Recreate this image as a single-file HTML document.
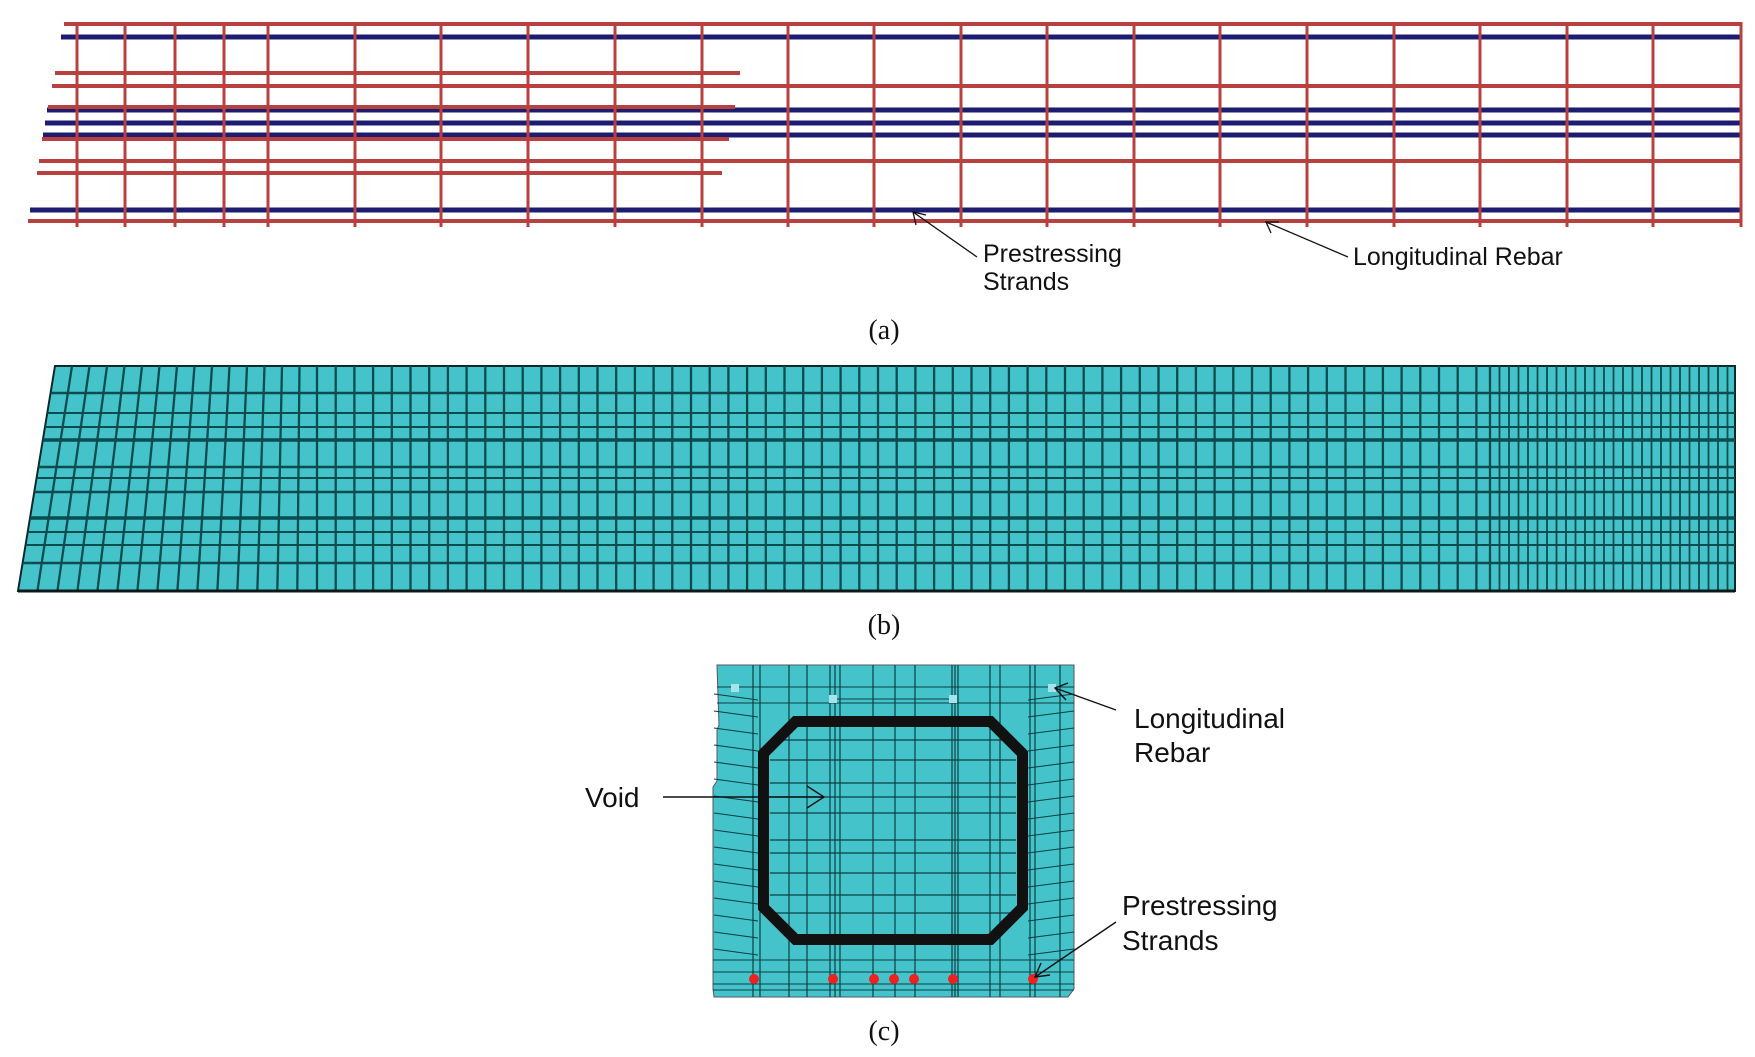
<!DOCTYPE html>
<html><head><meta charset="utf-8"><style>
html,body{margin:0;padding:0;background:#fff;}
svg{display:block;}
text{font-family:"Liberation Sans",Arial,sans-serif;fill:#111;}
.serif{font-family:"Liberation Serif",serif;}
</style></head><body>
<svg id="s" width="1755" height="1057" viewBox="0 0 1755 1057" xmlns="http://www.w3.org/2000/svg">
<g id="a"></g>
<g id="b"></g>
<g id="c"></g>
<g stroke="#111" stroke-width="1.3" fill="none">
<line x1="977" y1="257" x2="913" y2="212"/><polyline points="916,225 913,212 926,215"/>
<line x1="1348" y1="257" x2="1266" y2="222"/><polyline points="1271,233 1266,222 1279,222"/>
</g>
<text x="983" y="262" font-size="25">Prestressing</text>
<text x="983" y="290" font-size="25">Strands</text>
<text x="1353" y="265" font-size="25">Longitudinal Rebar</text>
<text class="serif" x="884" y="339" font-size="28" text-anchor="middle">(a)</text>
<text class="serif" x="884" y="634" font-size="28" text-anchor="middle">(b)</text>
<text class="serif" x="884" y="1040" font-size="28" text-anchor="middle">(c)</text>
<text x="585" y="807" font-size="28">Void</text>
<text x="1134" y="728" font-size="28">Longitudinal</text>
<text x="1134" y="762" font-size="28">Rebar</text>
<text x="1122" y="915" font-size="28">Prestressing</text>
<text x="1122" y="950" font-size="28">Strands</text>
</svg>
<script>
(function(){
const NS="http://www.w3.org/2000/svg";
function el(p,t,a){const e=document.createElementNS(NS,t);for(const k in a)e.setAttribute(k,a[k]);p.appendChild(e);return e;}
const A=document.getElementById('a');
const red="#b8403e",blue="#1c1c70";
const vx=[77,125,175,224,268,355,441,528,615,702,788,874,961,1047,1134,1220,1307,1394,1480,1567,1653,1741];
const hl=[[24,64,1741,red],[37,61,1741,blue],[73,55,740,red],[86,52,1741,red],[107,48,735,red],[110,47,1741,blue],[123,45,1741,blue],[135,43,1741,blue],[139,42,729,red],[161,39,1741,red],[173,37,722,red],[210,30,1741,blue],[221,28,1741,red]];
hl.forEach(h=>{if(h[3]==blue)el(A,'line',{x1:h[1],y1:h[0],x2:h[2],y2:h[0],stroke:h[3],'stroke-width':5});});
vx.forEach(x=>el(A,'line',{x1:x,y1:22,x2:x,y2:227,stroke:red,'stroke-width':3}));
hl.forEach(h=>{if(h[3]==red)el(A,'line',{x1:h[1],y1:h[0],x2:h[2],y2:h[0],stroke:h[3],'stroke-width':4});});
const B=document.getElementById('b');
const TOPY=366,BOTY=591;
function xl(y){return 55-37*(y-TOPY)/(BOTY-TOPY);}
el(B,'polygon',{points:`55,${TOPY} 1735,${TOPY} 1735,${BOTY} 18,${BOTY}`,fill:"#45c3cb",stroke:"#0a2a2a","stroke-width":2});
const line="#0b4d4f";
let xs=[];for(let x=72;x<1490;x+=(x<300?17.5:18.7))xs.push(x);for(let x=1490;x<1735;x+=9.5)xs.push(x);
xs.forEach(x=>{const f=Math.max(0,1-(x-55)/260);const bx=x-37*f;el(B,'line',{x1:x,y1:TOPY,x2:bx,y2:BOTY,stroke:line,'stroke-width':x>1490?1.8:2.3});});
const hy=[[393,2.5],[413,2],[427,2],[440,3.5],[467,2.5],[478,2],[492,2.5],[518,3.5],[532,2],[545,2],[563,2.5]];
hy.forEach(h=>el(B,'line',{x1:xl(h[0]),y1:h[0],x2:1735,y2:h[0],stroke:line,'stroke-width':h[1]}));
el(B,'line',{x1:18,y1:BOTY,x2:1735,y2:BOTY,stroke:"#0a1a1a","stroke-width":3});
const C=document.getElementById('c');
const L=717,R=1074,T=665,Bt=997;
el(C,'polygon',{points:`${L},${T} ${R},${T} ${R},${Bt-8} ${R-6},${Bt} ${L-3},${Bt} ${L-4},${Bt-8} ${L-4},787 ${L},781 ${L},730 ${L+2},725`,fill:"#45c3cb",stroke:"#556",'stroke-width':1});
const cl="#0b3f40";
[753,760,789,807,830,835,840,873,895,915,952,955,958,990,1000,1030,1035,1060].forEach(x=>el(C,'line',{x1:x,y1:T,x2:x,y2:Bt,stroke:cl,'stroke-width':1.2}));
[740,760,783,797,813,840,853,873,895,913].forEach(y=>{el(C,'line',{x1:770,y1:y,x2:1016,y2:y,stroke:cl,'stroke-width':1.2});});
for(let y=700;y<960;y+=17){el(C,'line',{x1:L-3,y1:y-6,x2:758,y2:y,stroke:cl,'stroke-width':1.1});el(C,'line',{x1:1028,y1:y,x2:R,y2:y-6,stroke:cl,'stroke-width':1.1});}
[683,699].forEach(y=>el(C,'line',{x1:L,y1:y+4,x2:R,y2:y+4,stroke:cl,'stroke-width':1.1}));
[960,972,984,990].forEach(y=>el(C,'line',{x1:L-4,y1:y,x2:R,y2:y,stroke:cl,'stroke-width':1.1}));
const o=5.5,x1=758+o,x2=1028-o,y1=716+o,y2=945-o,ch=32;
el(C,'polygon',{points:`${x1+ch},${y1} ${x2-ch},${y1} ${x2},${y1+ch} ${x2},${y2-ch} ${x2-ch},${y2} ${x1+ch},${y2} ${x1},${y2-ch} ${x1},${y1+ch}`,fill:"none",stroke:"#111","stroke-width":11,"stroke-linejoin":"miter"});
[[735,688],[833,699],[953,699],[1052,688]].forEach(p=>el(C,'rect',{x:p[0]-4,y:p[1]-4,width:8,height:8,fill:"#a6e3ea"}));
el(C,'line',{x1:837,y1:699,x2:949,y2:699,stroke:"#0b3f40","stroke-width":1});
[754,833,874,894,914,953,1033].forEach(x=>el(C,'circle',{cx:x,cy:979,r:5,fill:"#ee2020"}));
const g=el(C,'g',{stroke:"#111","stroke-width":1.4,fill:"none"});
el(g,'line',{x1:663,y1:797,x2:824,y2:797});el(g,'polyline',{points:"807,786 824,797 807,808"});
el(g,'line',{x1:1116,y1:710,x2:1055,y2:688});el(g,'polyline',{points:"1068,683 1055,688 1066,700"});
el(g,'line',{x1:1116,y1:922,x2:1035,y2:977});el(g,'polyline',{points:"1041,963 1035,977 1050,975"});
})();
</script>
</body></html>
